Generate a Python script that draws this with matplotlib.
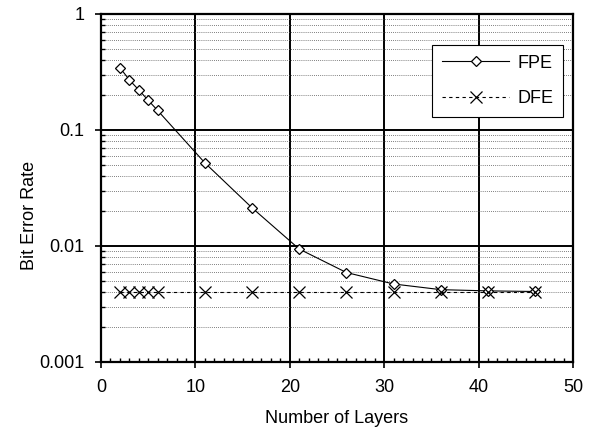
import numpy as np
import matplotlib.pyplot as plt
from matplotlib.ticker import MultipleLocator, LogLocator, FixedLocator, NullFormatter

plt.rc('font', family='Liberation Sans', size=13)

# data
layers = [2, 3, 4, 5, 6, 11, 16, 21, 26, 31, 36, 41, 46]
fpe_ber = [0.344, 0.27, 0.221, 0.18, 0.147, 0.052, 0.0213, 0.0094, 0.0059,
           0.0047, 0.0042, 0.0041, 0.00405]
dfe_ber = [0.004] * len(layers)

y_ticks = [0.001, 0.01, 0.1, 1]
y_tick_labels = ['0.001', '0.01', '0.1', '1']

fig = plt.figure(figsize=(6.07, 4.33), dpi=100)
ax = fig.add_axes([0.1664, 0.164, 0.7776, 0.804])

ax.plot(layers, fpe_ber, color='black', lw=0.8, marker='D', ms=5.5,
        mfc='white', mec='black', mew=0.9, label='FPE', zorder=4)
ax.plot(layers, dfe_ber, color='black', lw=0.8, ls=(0, (3, 3)), marker='x',
        ms=8, mew=0.9, label='DFE', zorder=4)

ax.set_yscale('log')
ax.set_xlim(0, 50)
ax.set_ylim(0.001, 1)

ax.xaxis.set_major_locator(MultipleLocator(10))
ax.xaxis.set_minor_locator(MultipleLocator(1))
ax.yaxis.set_major_locator(FixedLocator(y_ticks))
ax.set_yticklabels(y_tick_labels)
ax.yaxis.set_minor_locator(LogLocator(base=10, subs=np.arange(2, 10)))
ax.yaxis.set_minor_formatter(NullFormatter())

ax.grid(which='major', color='black', lw=1.4)
ax.grid(which='minor', axis='y', color='#555555', lw=0.6, ls=(0, (1, 1.5)))

ax.tick_params(which='major', direction='out', length=4, width=1.2, pad=8)
ax.tick_params(which='minor', direction='in', length=3, width=1.0)
ax.tick_params(axis='x', which='minor', top=False)

for s in ax.spines.values():
    s.set_linewidth(1.6)

ax.set_xlabel('Number of Layers', labelpad=10)
ax.set_ylabel('Bit Error Rate')
ax.yaxis.set_label_coords(-0.133, 0.42)

leg = ax.legend(loc='upper right', bbox_to_anchor=(0.979, 0.911), frameon=True,
                fancybox=False, edgecolor='black', framealpha=1,
                handlelength=3.7, labelspacing=1.0, borderpad=0.55,
                handletextpad=0.45, fontsize=13, borderaxespad=0)
leg.get_frame().set_linewidth(0.8)

fig.savefig('out.png', dpi=100)
